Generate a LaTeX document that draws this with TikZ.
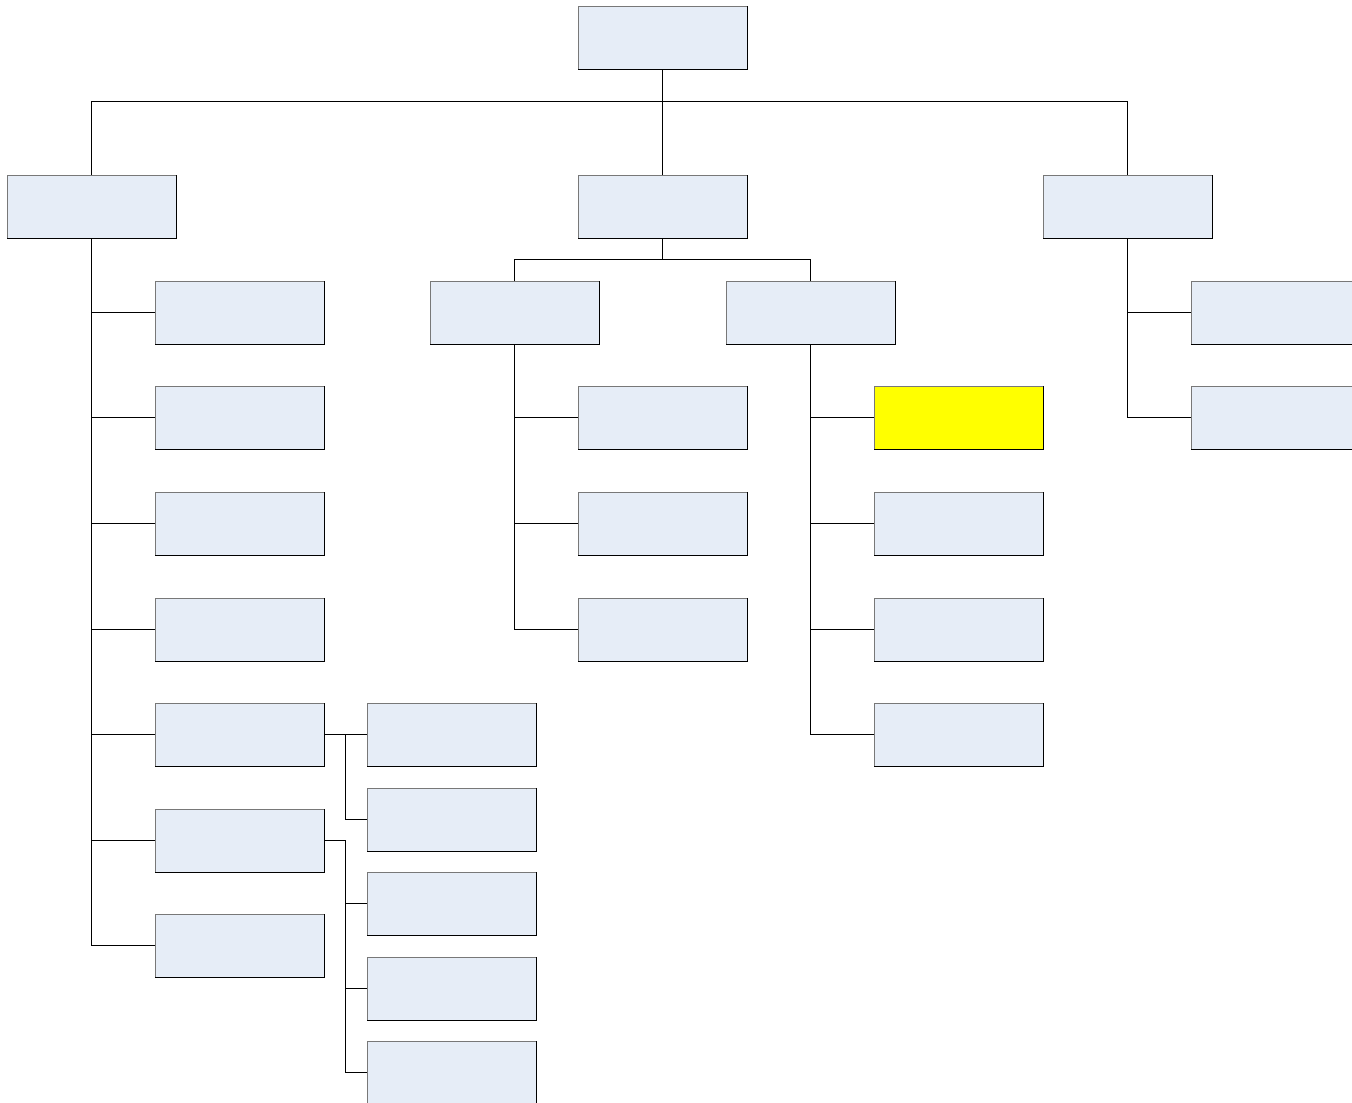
\documentclass[tikz,border=0pt]{standalone}
\usetikzlibrary{calc}
\definecolor{boxblue}{RGB}{230,237,247}
\definecolor{edgegray}{RGB}{120,120,120}
\definecolor{hiyellow}{RGB}{255,255,0}
\tikzset{
  orgbox/.style={rectangle, fill=boxblue, draw=edgegray, line width=0.9pt,
    minimum width=84.5mm, minimum height=31.5mm, inner sep=0pt, outer sep=0pt, anchor=north west},
  link/.style={line width=0.9pt, black},
  trunk/.style={line width=1.6pt, black},
}
\newcommand{\bx}[4][boxblue]{%
  \node[orgbox, fill=#1] (#2) at (#3,#4) {};
  \draw[black, line width=0.9pt] (#2.south west) -- (#2.south east) -- (#2.north east);
}
\begin{document}
\begin{tikzpicture}[x=0.5mm,y=-0.5mm]
\clip (0,0) rectangle (1352,1103);
\useasboundingbox (0,0) rectangle (1352,1103);
\fill[white] (0,0) rectangle (1352,1103);
% root and level 1
\bx{root}{578}{6}
\bx{L}{7}{175}
\bx{C}{578}{175}
\bx{R}{1043}{175}
% left children
\bx{lc1}{155}{281}
\bx{lc2}{155}{386}
\bx{lc3}{155}{492}
\bx{lc4}{155}{598}
\bx{lc5}{155}{703}
\bx{lc6}{155}{809}
\bx{lc7}{155}{914}
% grandchildren
\bx{g1}{367}{703}
\bx{g2}{367}{788}
\bx{g3}{367}{872}
\bx{g4}{367}{957}
\bx{g5}{367}{1041}
% center children
\bx{ca}{430}{281}
\bx{cb}{726}{281}
\bx{ca1}{578}{386}
\bx{ca2}{578}{492}
\bx{ca3}{578}{598}
\bx[hiyellow]{cb1}{874}{386}
\bx{cb2}{874}{492}
\bx{cb3}{874}{598}
\bx{cb4}{874}{703}
% right children
\bx{rc1}{1191}{281}
\bx{rc2}{1191}{386}
% connectors: root level
\draw[trunk] (root.south) -- ++(0,32);
\draw[link] (root.south) -- (C.north);
\draw[link] (L.north) -- ++(0,-74) -| (R.north);
% left trunk
\draw[trunk] (L.south) -- (L.south |- lc4.west);
\foreach \n in {lc1,lc2,lc3,lc4,lc5,lc6,lc7}
  \draw[link] (L.south) |- (\n.west);
% grandchildren
\coordinate (v5) at ($(lc5.east)+(21,0)$);
\coordinate (v6) at ($(lc6.east)+(21,0)$);
\draw[link] (lc5.east) -- (g1.west);
\draw[link] (lc5.east) -- (v5) |- (g2.west);
\foreach \n in {g3,g4,g5}
  \draw[link] (lc6.east) -- (v6) |- (\n.west);
% center
\draw[trunk] (C.south) -- ++(0,21);
\draw[link] (C.south) -- ++(0,21) -| (ca.north);
\draw[link] (C.south) -- ++(0,21) -| (cb.north);
\draw[trunk] (ca.south) -- (ca.south |- ca1.west);
\foreach \n in {ca1,ca2,ca3}
  \draw[link] (ca.south) |- (\n.west);
\draw[trunk] (cb.south) -- (cb.south |- cb2.west);
\foreach \n in {cb1,cb2,cb3,cb4}
  \draw[link] (cb.south) |- (\n.west);
% right
\draw[trunk] (R.south) -- (R.south |- rc1.west);
\foreach \n in {rc1,rc2}
  \draw[link] (R.south) |- (\n.west);
\end{tikzpicture}
\end{document}
